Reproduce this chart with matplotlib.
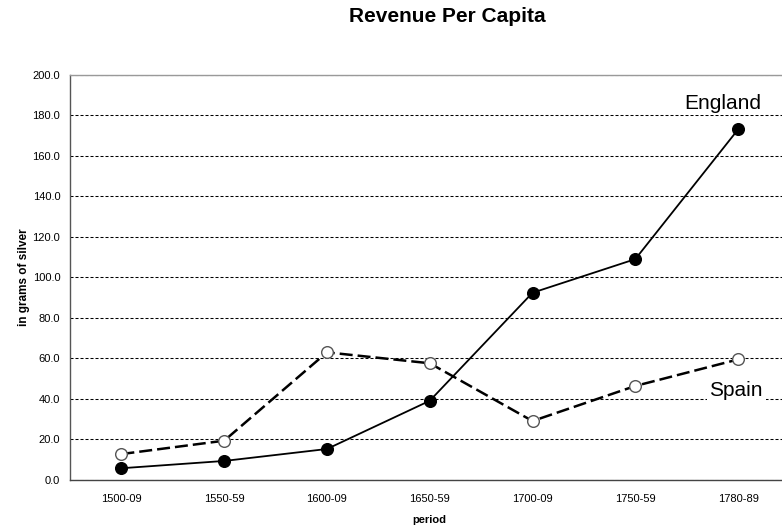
import matplotlib
matplotlib.use("Agg")
import matplotlib.pyplot as plt

periods = ["1500-09", "1550-59", "1600-09", "1650-59", "1700-09", "1750-59", "1780-89"]
england = [5.8, 9.4, 15.3, 39.1, 92.4, 109.0, 173.0]
spain = [12.8, 19.4, 63.0, 57.6, 29.1, 46.4, 59.5]
y_ticks = [0, 20, 40, 60, 80, 100, 120, 140, 160, 180, 200]

plt.rcParams["font.family"] = ["Liberation Sans", "DejaVu Sans"]

fig = plt.figure(figsize=(7.82, 5.25), dpi=100)
# plot area runs a little past the right edge of the picture
ax = fig.add_axes([70 / 782, 45 / 525, 719.5 / 782, 405.3 / 525])

x = list(range(len(periods)))

ax.plot(x, spain, color="black", linewidth=1.8, dashes=(5.2, 2.0),
        marker="o", markersize=8.4, markerfacecolor="white",
        markeredgecolor="#555555", markeredgewidth=1.0, zorder=3)
ax.plot(x, england, color="black", linewidth=1.3,
        marker="o", markersize=8.4, markerfacecolor="black",
        markeredgecolor="black", zorder=4)

ax.set_xlim(-0.5, 6.5)
ax.set_ylim(0, 200)
ax.set_xticks(x)
ax.set_xticklabels(periods, fontsize=8)
ax.set_yticks(y_ticks)
ax.set_yticklabels([f"{v:.1f}" for v in y_ticks], fontsize=8)
ax.tick_params(axis="both", length=0)
ax.tick_params(axis="x", pad=10)
ax.tick_params(axis="y", pad=7)

ax.yaxis.grid(True, color="black", linewidth=0.75, linestyle=(0, (2.9, 1.9)))
ax.set_axisbelow(True)

ax.spines["right"].set_visible(False)
ax.spines["top"].set_color("#999999")
ax.spines["left"].set_color("#555555")
ax.spines["bottom"].set_color("#444444")
for s in ["top", "left", "bottom"]:
    ax.spines[s].set_linewidth(1.0)

ax.set_xlabel("period", fontsize=8, fontweight="bold", labelpad=8)
ax.set_ylabel("in grams of silver", fontsize=8.5, fontweight="bold", labelpad=2)

bbox = dict(facecolor="white", edgecolor="none", pad=2)
ax.text(5.85, 186, "England", fontsize=15, ha="center", va="center", bbox=bbox, zorder=5)
ax.text(5.98, 44.4, "Spain", fontsize=15, ha="center", va="center", bbox=bbox, zorder=5)

fig.text(447 / 782, 1 - 16 / 525, "Revenue Per Capita", fontsize=15,
         fontweight="bold", ha="center", va="center")

fig.savefig("out.png", dpi=100)
